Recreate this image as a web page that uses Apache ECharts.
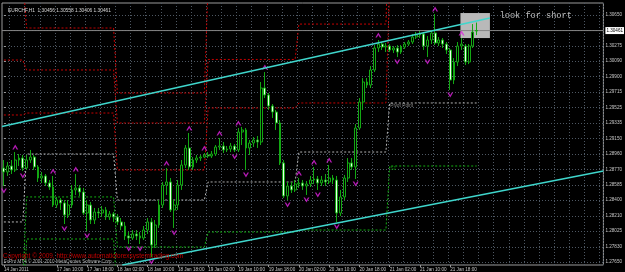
<!DOCTYPE html>
<html>
<head>
<meta charset="utf-8">
<script src="https://cdn.jsdelivr.net/npm/echarts@6/dist/echarts.min.js"></script>
<style>
  html, body { margin: 0; padding: 0; background: #000; }
  #chart { width: 625px; height: 272px; }
</style>
</head>
<body>
<div id="chart"></div>
<script>
// EURCHF H1 bars, [open, close, low, high]
const candles = [
  [1.28791, 1.28742, 1.28572, 1.28888], [1.28742, 1.28815, 1.28694, 1.28864],
  [1.28815, 1.28767, 1.28718, 1.28888], [1.28767, 1.28888, 1.28742, 1.28985],
  [1.28888, 1.28912, 1.28815, 1.28961], [1.28912, 1.28791, 1.28755, 1.28949],
  // 17 Jan
  [1.28791, 1.28888, 1.28767, 1.28949], [1.28888, 1.28924, 1.28852, 1.29010],
  [1.28924, 1.28803, 1.28767, 1.28949], [1.28803, 1.28669, 1.28621, 1.28827],
  [1.28669, 1.28694, 1.28609, 1.28742], [1.28694, 1.28609, 1.28572, 1.28718],
  [1.28609, 1.28560, 1.28524, 1.28645], [1.28560, 1.28341, 1.28317, 1.28694],
  [1.28341, 1.28402, 1.28305, 1.28439], [1.28402, 1.28366, 1.28281, 1.28426],
  [1.28366, 1.28220, 1.28110, 1.28402], [1.28220, 1.28341, 1.28183, 1.28402],
  [1.28341, 1.28524, 1.28305, 1.28584], [1.28524, 1.28548, 1.28463, 1.28718],
  [1.28548, 1.28499, 1.28451, 1.28584], [1.28499, 1.28244, 1.28220, 1.28548],
  [1.28244, 1.28341, 1.28025, 1.28402], [1.28341, 1.28159, 1.28110, 1.28378],
  [1.28159, 1.28256, 1.28110, 1.28305], [1.28256, 1.28244, 1.28183, 1.28305],
  [1.28244, 1.28281, 1.28196, 1.28329], [1.28281, 1.28196, 1.28159, 1.28317],
  [1.28196, 1.28232, 1.28159, 1.28268], [1.28232, 1.28196, 1.28135, 1.28256],
  // 18 Jan
  [1.28196, 1.28135, 1.28098, 1.28232], [1.28135, 1.28086, 1.28037, 1.28183],
  [1.28086, 1.27965, 1.27916, 1.28135], [1.27965, 1.27940, 1.27867, 1.28013],
  [1.27940, 1.27989, 1.27916, 1.28037], [1.27989, 1.27965, 1.27916, 1.28037],
  [1.27965, 1.27940, 1.27867, 1.28013], [1.27940, 1.28037, 1.27916, 1.28086],
  [1.28037, 1.28135, 1.27989, 1.28183], [1.28135, 1.27855, 1.27709, 1.28183],
  [1.27855, 1.28098, 1.27819, 1.28159], [1.28098, 1.28341, 1.28062, 1.28402],
  [1.28341, 1.28584, 1.28305, 1.28621], [1.28584, 1.28621, 1.28463, 1.28791],
  [1.28621, 1.28281, 1.28256, 1.28669], [1.28281, 1.28341, 1.28062, 1.28402],
  [1.28341, 1.28584, 1.28281, 1.28645], [1.28584, 1.28827, 1.28524, 1.28888],
  [1.28827, 1.29034, 1.28791, 1.29070], [1.29034, 1.28803, 1.28767, 1.29216],
  [1.28803, 1.28888, 1.28767, 1.28924], [1.28888, 1.28912, 1.28852, 1.28949],
  [1.28912, 1.28924, 1.28876, 1.28949], [1.28924, 1.28949, 1.28912, 1.28973],
  // 19 Jan
  [1.28949, 1.28937, 1.28912, 1.28985], [1.28937, 1.28961, 1.28912, 1.28997],
  [1.28961, 1.29046, 1.28937, 1.29070], [1.29046, 1.29058, 1.29010, 1.29155],
  [1.29058, 1.29010, 1.28973, 1.29107], [1.29010, 1.29022, 1.28985, 1.29058],
  [1.29022, 1.29058, 1.28985, 1.29095], [1.29058, 1.29010, 1.28985, 1.29082],
  [1.29010, 1.29228, 1.28985, 1.29277], [1.29228, 1.29253, 1.29070, 1.29289],
  [1.29253, 1.29034, 1.28767, 1.29277], [1.29034, 1.29095, 1.28949, 1.29131],
  [1.29095, 1.29131, 1.29046, 1.29167], [1.29131, 1.29107, 1.29034, 1.29180],
  [1.29107, 1.29763, 1.29070, 1.29836], [1.29763, 1.29678, 1.29641, 1.29957],
  [1.29678, 1.29544, 1.29496, 1.29702], [1.29544, 1.29471, 1.29398, 1.29568],
  [1.29471, 1.29338, 1.29253, 1.29496], [1.29338, 1.28852, 1.28827, 1.29374],
  [1.28852, 1.28451, 1.28426, 1.28888], [1.28451, 1.28572, 1.28402, 1.28621],
  [1.28572, 1.28524, 1.28487, 1.28621], [1.28524, 1.28596, 1.28499, 1.28645],
  // 20 Jan
  [1.28596, 1.28609, 1.28548, 1.28669], [1.28609, 1.28572, 1.28524, 1.28645],
  [1.28572, 1.28596, 1.28463, 1.28633], [1.28596, 1.28645, 1.28560, 1.28694],
  [1.28645, 1.28657, 1.28596, 1.28803], [1.28657, 1.28609, 1.28524, 1.28694],
  [1.28609, 1.28645, 1.28572, 1.28694], [1.28645, 1.28621, 1.28572, 1.28718],
  [1.28621, 1.28669, 1.28596, 1.28827], [1.28669, 1.28645, 1.28596, 1.28706],
  [1.28645, 1.28244, 1.28135, 1.28694], [1.28244, 1.28439, 1.28208, 1.28524],
  [1.28439, 1.28669, 1.28402, 1.28706], [1.28669, 1.28852, 1.28621, 1.28912],
  [1.28852, 1.28803, 1.28767, 1.28912], [1.28803, 1.29277, 1.28657, 1.29325],
  [1.29277, 1.29593, 1.29253, 1.29641], [1.29593, 1.29836, 1.29496, 1.29884],
  [1.29836, 1.29799, 1.29763, 1.29884], [1.29799, 1.29982, 1.29763, 1.30030],
  [1.29982, 1.30249, 1.29957, 1.30285], [1.30249, 1.30297, 1.30200, 1.30346],
  [1.30297, 1.30261, 1.30225, 1.30322], [1.30261, 1.30273, 1.30200, 1.30310],
  // 21 Jan
  [1.30273, 1.30225, 1.30200, 1.30297], [1.30225, 1.30249, 1.30188, 1.30273],
  [1.30249, 1.30200, 1.30139, 1.30285], [1.30200, 1.30261, 1.30176, 1.30285],
  [1.30261, 1.30297, 1.30237, 1.30322], [1.30297, 1.30322, 1.30273, 1.30346],
  [1.30322, 1.30382, 1.30297, 1.30419], [1.30382, 1.30407, 1.30358, 1.30443],
  [1.30407, 1.30419, 1.30370, 1.30455], [1.30419, 1.30273, 1.30225, 1.30443],
  [1.30273, 1.30346, 1.30139, 1.30395], [1.30346, 1.30431, 1.30297, 1.30468],
  [1.30431, 1.30310, 1.30285, 1.30662], [1.30310, 1.30346, 1.30273, 1.30382],
  [1.30346, 1.30297, 1.30249, 1.30370], [1.30297, 1.30225, 1.30176, 1.30322],
  [1.30225, 1.29860, 1.29739, 1.30249], [1.29860, 1.30079, 1.29811, 1.30127],
  [1.30079, 1.30273, 1.30030, 1.30322], [1.30273, 1.30297, 1.30225, 1.30370],
  [1.30273, 1.30079, 1.30042, 1.30297], [1.30079, 1.30273, 1.30054, 1.30297],
  [1.30273, 1.30443, 1.30249, 1.30540], [1.30456, 1.30461, 1.30406, 1.30558]
];

const slotCount = 159; // bars plus the empty chart shift on the right
const tickBars = [0, 6, 14, 22, 30, 38, 46, 54, 62, 70, 78, 86, 94, 102, 110, 118];
const tickLabels = ['14 Jan 2011', '17 Jan 02:00', '17 Jan 10:00', '17 Jan 18:00',
  '18 Jan 02:00', '18 Jan 10:00', '18 Jan 18:00', '19 Jan 02:00', '19 Jan 10:00',
  '19 Jan 18:00', '20 Jan 02:00', '20 Jan 10:00', '20 Jan 18:00', '21 Jan 02:00',
  '21 Jan 10:00', '21 Jan 18:00'];
const priceTicks = [1.27650, 1.27830, 1.28025, 1.28210, 1.28400, 1.28585, 1.28770,
  1.28960, 1.29150, 1.29335, 1.29525, 1.29715, 1.29900, 1.30090, 1.30275, 1.30460, 1.30650];

// daily pivot levels (first bar of each day in dayStarts)
const dayStarts = [0, 6, 30, 54, 78, 102];
const pivotR3 = [1.31100, 1.30492, 1.29702, 1.31050, 1.31600, 1.33200];
const pivotR2 = [1.30103, 1.29982, 1.29338, 1.30110, 1.30540, 1.32000];
const pivotR1 = [1.29435, 1.29459, 1.28767, 1.29520, 1.29581, 1.31000];
const pivotP  = [1.28135, 1.28961, 1.28402, 1.28621, 1.28985, 1.29581];
const pivotS1 = [1.27400, 1.28439, 1.27831, 1.28013, 1.28037, 1.28815];
const pivotS2 = [1.26900, 1.27928, 1.27260, 1.27110, 1.27430, 1.27370];

const fractalUpBars = [3, 13, 19, 43, 49, 53, 57, 62, 69, 78, 82, 86, 99, 114, 121];
const fractalDownBars = [0, 5, 16, 22, 33, 36, 39, 45, 61, 64, 75, 80, 83, 88, 93, 104, 112, 118];

// drawn objects, [bar, price]
const upperChannel = [[-0.5, 1.29294], [128.5, 1.30613]];
const lowerChannel = [[31.3, 1.27612], [158.5, 1.28755]];
const shortZone = [[120.7, 1.30674], [128.5, 1.30370]];
const notePoint = [131.2, 1.30638];
const lastPrice = 1.30461;

const priceMin = 1.27612;
const priceMax = 1.30796;

function dayOf(i) {
  let d = 0;
  dayStarts.forEach(function (s, k) { if (i >= s) d = k; });
  return d;
}
function levelLine(levels) {
  return candles.map(function (c, i) { return levels[dayOf(i)]; });
}
function pivotSeries(levels, color) {
  return {
    type: 'line', data: levelLine(levels), symbol: 'none', silent: true, z: 2,
    lineStyle: { color: color, width: 1, type: [2, 2] }
  };
}

const chart = echarts.init(document.getElementById('chart'), null, { renderer: 'canvas' });
const txt = '#c8c8c8';

chart.setOption({
  animation: false,
  backgroundColor: '#000',
  title: {
    text: 'EURCHF,H1  1.30456 1.30558 1.30406 1.30461',
    left: 3, top: 3,
    textStyle: { color: '#d8d8d8', fontSize: 4.8, fontWeight: 'normal', fontFamily: 'Liberation Sans' }
  },
  graphic: [
    { type: 'text', left: 3, top: 253, z: 100,
      style: { text: 'Copyright © 2009, http://www.automaticforexsystemtrading.com', fill: '#c00000', font: '6.4px Liberation Sans' } },
    { type: 'text', left: 4, top: 259, z: 101,
      style: { text: 'FxPro MT4 © 2001-2010 MetaQuotes Software Corp.', fill: '#b0b0b0', font: '4.6px Liberation Sans' } }
  ],
  grid: {
    left: 2, right: 18, top: 3, bottom: 7,
    show: true, backgroundColor: '#000', borderColor: '#9a9a9a', borderWidth: 1
  },
  xAxis: [
    {
      type: 'category',
      data: Array.from({ length: slotCount }, function (_, i) { return String(i); }),
      boundaryGap: true,
      axisLine: { show: false },
      axisTick: {
        show: true, alignWithLabel: true, length: 2, lineStyle: { color: '#9a9a9a' },
        interval: function (i) { return tickBars.indexOf(i) >= 0; }
      },
      axisLabel: {
        color: txt, fontSize: 4.6, fontFamily: 'Liberation Sans', margin: 2, align: 'left',
        showMinLabel: true, hideOverlap: false,
        interval: function (i) { return tickBars.indexOf(i) >= 0; },
        formatter: function (v, i) { return tickLabels[tickBars.indexOf(i)] || ''; }
      },
      splitLine: {
        show: true,
        interval: function (i) { return i % 4 === 2; },
        lineStyle: { color: '#4e5863', width: 1, type: [1, 2] }
      }
    },
    { type: 'value', min: -0.5, max: slotCount - 0.5, show: false }
  ],
  yAxis: {
    type: 'value', position: 'right', min: priceMin, max: priceMax, scale: true,
    axisLine: { show: false },
    axisTick: { show: true, length: 2, customValues: priceTicks, lineStyle: { color: '#9a9a9a' } },
    axisLabel: {
      color: txt, fontSize: 4.6, fontFamily: 'Liberation Sans', margin: 2,
      customValues: priceTicks,
      formatter: function (v) { return v.toFixed(5); }
    },
    splitLine: { show: true, lineStyle: { color: '#4e5863', width: 1, type: [1, 2] } }
  },
  series: [
    {
      type: 'line', xAxisIndex: 1, data: shortZone, symbol: 'none', silent: true, z: 1,
      lineStyle: { opacity: 0 },
      markArea: {
        silent: true,
        itemStyle: { color: '#b9b9b9' },
        data: [[{ coord: shortZone[0] }, { coord: shortZone[1] }]]
      }
    },
    pivotSeries(pivotR3, '#c80000'),
    pivotSeries(pivotR2, '#c80000'),
    pivotSeries(pivotR1, '#c80000'),
    pivotSeries(pivotP, '#b4b4b4'),
    pivotSeries(pivotS1, '#12b012'),
    pivotSeries(pivotS2, '#12b012'),
    {
      // bid line
      type: 'line', xAxisIndex: 1, silent: true, z: 2, symbol: 'none',
      data: [[-0.5, lastPrice], [slotCount - 0.5, lastPrice]],
      lineStyle: { color: '#858585', width: 1 },
      endLabel: {
        show: true, distance: 2, color: '#000', backgroundColor: '#ffffff',
        fontSize: 4.6, fontFamily: 'Liberation Sans', padding: [1, 1],
        formatter: function () { return lastPrice.toFixed(5); }
      }
    },
    {
      type: 'candlestick', data: candles, barWidth: '62%', z: 3,
      itemStyle: {
        color: '#000000', color0: '#eaffea',
        borderColor: '#13a813', borderColor0: '#13a813', borderWidth: 1
      }
    },
    {
      type: 'scatter', z: 4, silent: true,
      data: fractalUpBars.map(function (i) { return [i, candles[i][3]]; }),
      symbol: 'path://M5,0 L10,9 L7.5,9 L5,4.5 L2.5,9 L0,9 Z',
      symbolSize: [6, 5], symbolOffset: [0, -5],
      itemStyle: { color: '#e020e0' }
    },
    {
      type: 'scatter', z: 4, silent: true,
      data: fractalDownBars.map(function (i) { return [i, candles[i][2]]; }),
      symbol: 'path://M0,0 L2.5,0 L5,4.5 L7.5,0 L10,0 L5,9 Z',
      symbolSize: [6, 5], symbolOffset: [0, 5],
      itemStyle: { color: '#e020e0' }
    },
    {
      type: 'line', xAxisIndex: 1, data: upperChannel, symbol: 'none', silent: true, z: 5,
      lineStyle: { color: '#3fd6cc', width: 1.5 }
    },
    {
      type: 'line', xAxisIndex: 1, data: lowerChannel, symbol: 'none', silent: true, z: 5,
      lineStyle: { color: '#3fd6cc', width: 1.5 }
    },
    {
      type: 'scatter', z: 6, silent: true, symbolSize: 1, itemStyle: { color: 'rgba(0,0,0,0)' },
      data: [[dayStarts[5], pivotP[5]]],
      label: {
        show: true, position: [1, 1], align: 'left', verticalAlign: 'top',
        formatter: 'Pivot Point', color: '#a8a8a8', fontSize: 4.8, fontFamily: 'Liberation Sans'
      }
    },
    {
      type: 'scatter', z: 6, silent: true, symbolSize: 1, itemStyle: { color: 'rgba(0,0,0,0)' },
      data: [[dayStarts[5], pivotS1[5]]],
      label: {
        show: true, position: [1, 1], align: 'left', verticalAlign: 'top',
        formatter: 'S1', color: '#10a010', fontSize: 5, fontFamily: 'Liberation Sans'
      }
    },
    {
      type: 'scatter', xAxisIndex: 1, z: 6, silent: true, symbolSize: 1,
      itemStyle: { color: 'rgba(0,0,0,0)' },
      data: [notePoint],
      label: {
        show: true, position: [0, 0], align: 'left', verticalAlign: 'middle',
        formatter: 'look for short', color: '#e4e4e4', fontSize: 8.6, fontFamily: 'Liberation Mono'
      }
    }
  ]
});
</script>
</body>
</html>
